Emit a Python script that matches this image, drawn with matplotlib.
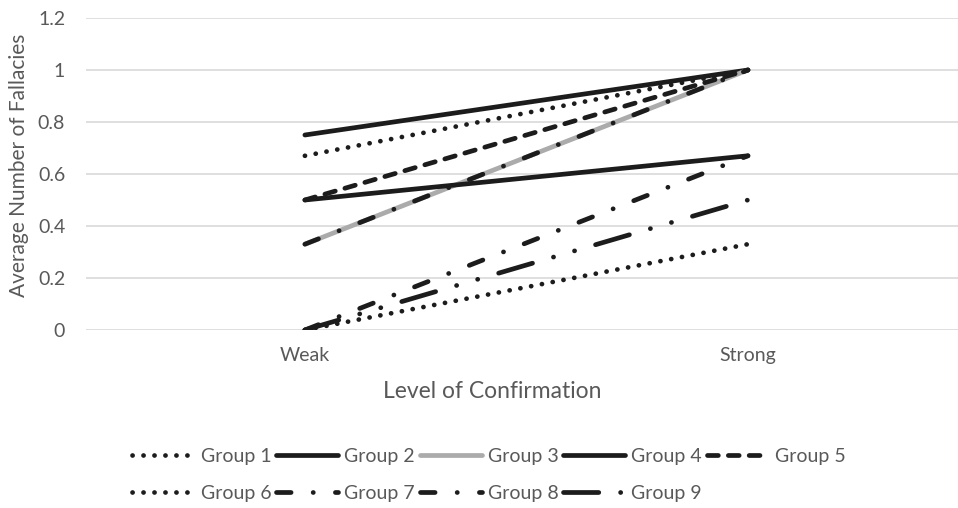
import matplotlib
matplotlib.use("Agg")
import matplotlib.pyplot as plt

# ---- data ----
categories = ["Weak", "Strong"]
groups = ["Group 1", "Group 2", "Group 3", "Group 4", "Group 5",
          "Group 6", "Group 7", "Group 8", "Group 9"]
weak = [0.67, 0.75, 0.33, 0.50, 0.50, 0.00, 0.00, 0.33, 0.00]
strong = [1.00, 1.00, 1.00, 0.67, 1.00, 0.33, 0.67, 1.00, 0.50]
yticks = [0, 0.2, 0.4, 0.6, 0.8, 1.0, 1.2]
ytick_labels = ["0", "0.2", "0.4", "0.6", "0.8", "1", "1.2"]

# ---- styling ----
plt.rcParams["font.family"] = ["Lato", "DejaVu Sans"]
plt.rcParams["lines.scale_dashes"] = False

TEXT = "#595959"
GRID = "#D9D9D9"
DARK = "#1c1c1c"
LIGHT = "#ABABAB"
LW = 3.4

dot = (0, (0.1, 7.8))
dash = (0, (7.8, 7.2))
dash_dot = (0, (10.5, 15.9, 0.1, 15.9))
long_dash_dot_dot = (0, (25.4, 15.7, 0.1, 15.7, 0.1, 15.7))

styles = [
    (DARK, dot),
    (DARK, "-"),
    (LIGHT, "-"),
    (DARK, "-"),
    (DARK, dash),
    (DARK, dot),
    (DARK, dash_dot),
    (DARK, dash_dot),
    (DARK, long_dash_dot_dot),
]

W, H = 958, 508
fig = plt.figure(figsize=(W / 100, H / 100), dpi=100)
ax = fig.add_axes([86 / W, (H - 330) / H, (W - 86) / W, 312 / H])

x = list(range(len(categories)))
handles = []
for i, name in enumerate(groups):
    color, ls = styles[i]
    line, = ax.plot(x, [weak[i], strong[i]], color=color, linestyle=ls,
                    linewidth=LW, dash_capstyle="round",
                    solid_capstyle="round", zorder=3 + i, label=name)
    handles.append(line)

ax.set_xlim(-0.494, 1.474)
ax.set_ylim(0, 1.2)
ax.set_yticks(yticks, ytick_labels)
ax.set_xticks(x, categories)
ax.yaxis.grid(True, color=GRID, linewidth=1.2, zorder=0)
ax.set_axisbelow(True)
for s in ax.spines.values():
    s.set_visible(False)
ax.tick_params(axis="y", length=0, pad=15, labelsize=14, labelcolor=TEXT)
ax.tick_params(axis="x", length=0, pad=12, labelsize=14, labelcolor=TEXT)

fig.text(19 / W, 1 - 165 / H, "Average Number of Fallacies", rotation=90,
         ha="center", va="center", fontsize=15, color=TEXT)
fig.text(492 / W, 1 - 392 / H, "Level of Confirmation",
         ha="center", va="center", fontsize=16.5, color=TEXT)

# legend laid out row by row: Group 1-5 on top, Group 6-9 below
order = [0, 5, 1, 6, 2, 7, 3, 8, 4]
leg = fig.legend([handles[k] for k in order], [groups[k] for k in order],
                 loc="center", bbox_to_anchor=(489 / W, 1 - 475 / H),
                 ncol=5, frameon=False, fontsize=14, handlelength=3.2,
                 handletextpad=0.3, columnspacing=0.25, labelspacing=1.05,
                 borderpad=0)
for t in leg.get_texts():
    t.set_color(TEXT)

fig.savefig("out.png", dpi=100)
